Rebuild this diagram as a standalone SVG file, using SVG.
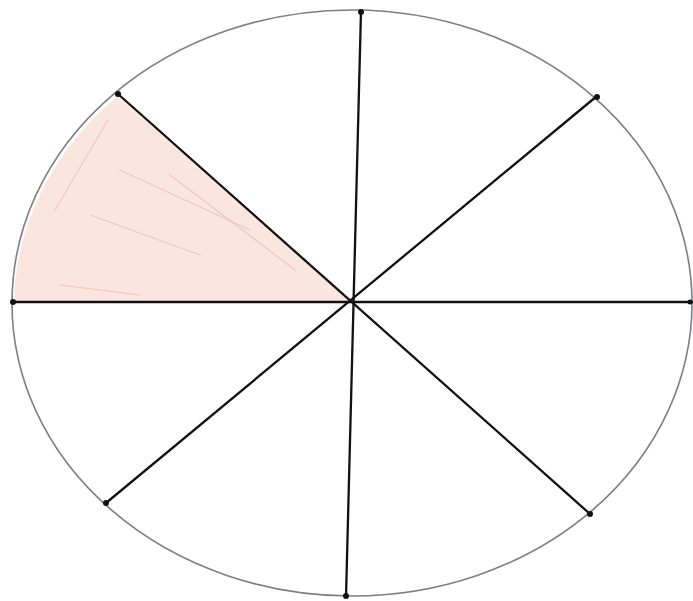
<svg xmlns="http://www.w3.org/2000/svg" width="693" height="601" viewBox="0 0 693 601">
<style>
.rim{fill:none;stroke:#7d7f86;stroke-width:1.6}
.spoke{stroke:#111;stroke-width:2.3;stroke-linecap:round}
.dot{fill:#111}
.hatch{stroke:#e2a090;stroke-width:1.2;opacity:0.45;stroke-linecap:round}
</style>
<rect width="693" height="601" fill="#fff"/>
<g id="shaded">
<path d="M350,301 L118,96 A340,293 0 0 0 14,302 Z" fill="#fae2db" opacity="0.9"/>
<line class="hatch" x1="108" y1="120" x2="55" y2="210"/>
<line class="hatch" x1="120" y1="170" x2="250" y2="230"/>
<line class="hatch" x1="90" y1="215" x2="200" y2="255"/>
<line class="hatch" x1="170" y1="175" x2="295" y2="270"/>
<line class="hatch" x1="60" y1="285" x2="140" y2="295"/>
</g>
<g id="rim"><ellipse class="rim" cx="352" cy="303" rx="340" ry="293"/></g>
<g id="connectors">
<line class="spoke" x1="361" y1="11" x2="346" y2="597"/>
<line class="spoke" x1="13" y1="302" x2="692" y2="302"/>
<line class="spoke" x1="118" y1="94" x2="590" y2="514"/>
<line class="spoke" x1="597" y1="96" x2="106" y2="503"/>
</g>
<g id="points">
<circle class="dot" cx="361" cy="12" r="3"/>
<circle class="dot" cx="346" cy="596" r="3"/>
<circle class="dot" cx="13" cy="302" r="3"/>
<circle class="dot" cx="690" cy="302" r="2.5"/>
<circle class="dot" cx="118" cy="94" r="3"/>
<circle class="dot" cx="597" cy="97" r="3"/>
<circle class="dot" cx="106" cy="503" r="3"/>
<circle class="dot" cx="590" cy="514" r="3"/>
</g>
</svg>
